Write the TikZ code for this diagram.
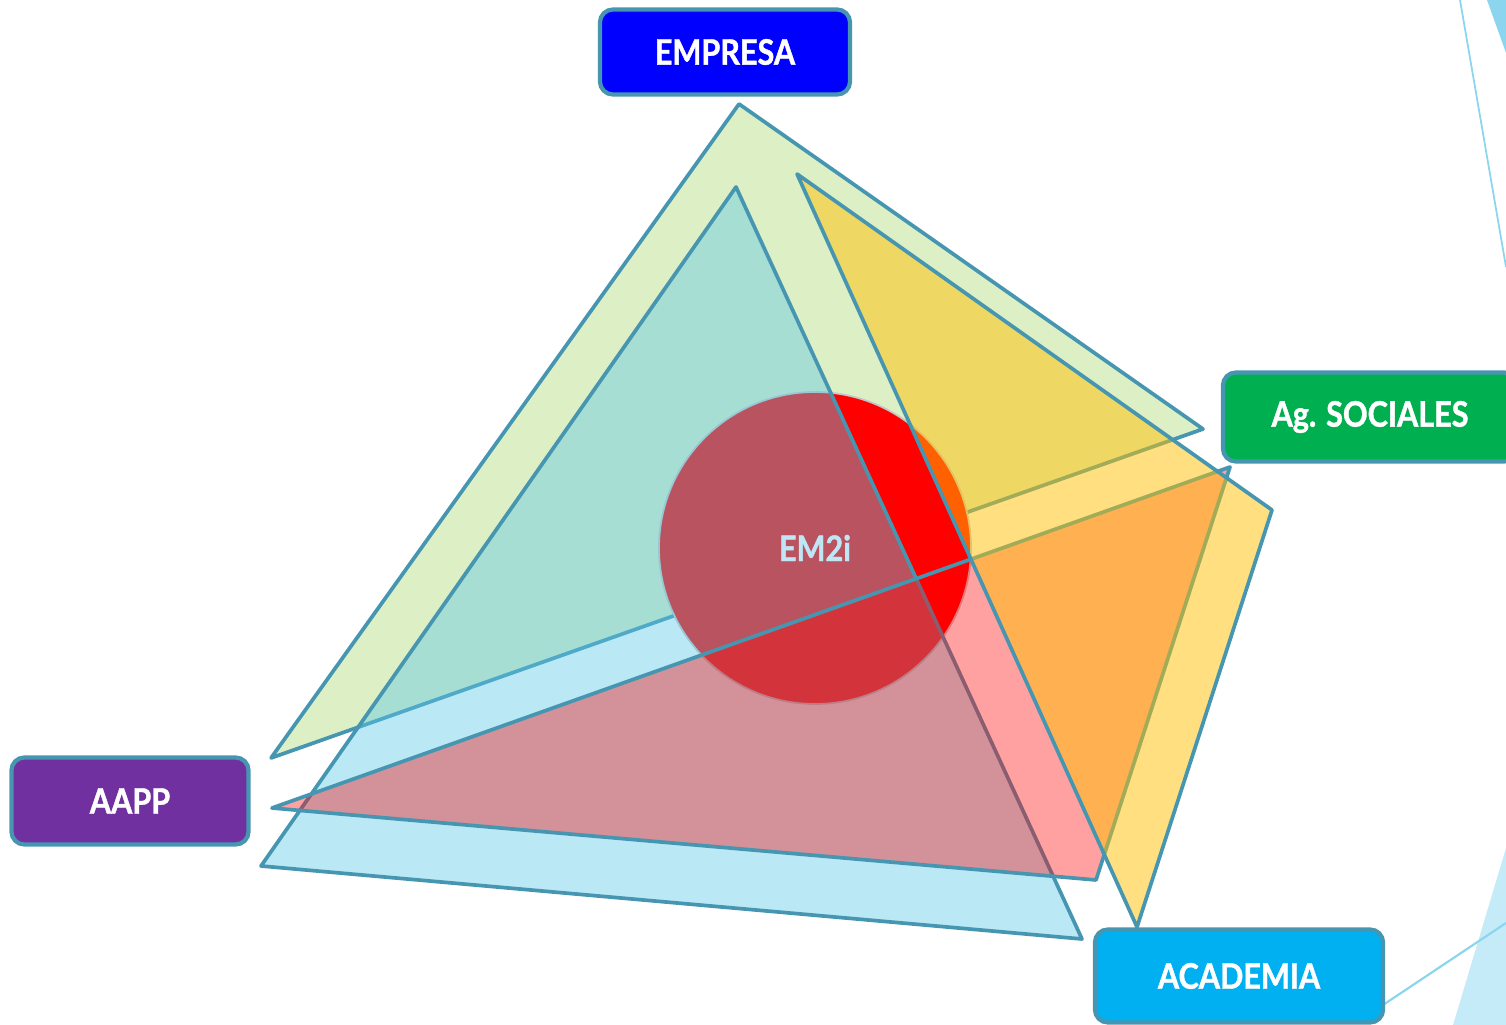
\documentclass[tikz,border=0pt]{standalone}
\usepackage{fontspec}
\newfontfamily\etiq[FakeStretch=0.87,FakeBold=1.2]{Lato}
\usepackage{tikz}
\definecolor{borde}{RGB}{70,150,178}
\definecolor{verdeclaro}{RGB}{221,239,197}
\definecolor{celeste}{RGB}{91,200,231}
\definecolor{ambar}{RGB}{255,192,0}
\definecolor{deco}{RGB}{140,213,238}
\definecolor{decoclaro}{RGB}{197,235,248}
\definecolor{texcirc}{RGB}{192,230,245}
\definecolor{empresa}{RGB}{0,0,255}
\definecolor{sociales}{RGB}{0,176,80}
\definecolor{aapp}{RGB}{112,48,160}
\definecolor{academia}{RGB}{0,176,240}

\begin{document}
\begin{tikzpicture}[x=0.01cm,y=-0.01cm,
    caja/.style={draw=borde, line width=1.2pt, rounded corners=0.13cm, text=white,
        font=\etiq\bfseries\fontsize{10}{12}\selectfont},
    tri/.style={draw=borde, line width=1.05pt, line join=round}]
    \useasboundingbox (0,0) rectangle (1506,1025);
    \clip (0,0) rectangle (1506,1025);
    \fill[deco] (1487,0) -- (1506,0) -- (1506,53) -- cycle;
    \draw[deco, line width=0.5pt] (1460,0) -- (1506,267);
    \fill[decoclaro] (1453,1025) -- (1506,848) -- (1506,1025) -- cycle;
    \draw[deco, line width=0.6pt] (1383,1005) -- (1506,923);
    \draw[tri, fill=verdeclaro] (739,104) -- (1203,429) -- (271,758) -- cycle;
    \draw[red, fill=red, draw=gray!45, line width=0.5pt] (815,548) circle (156);
    \draw[tri, fill=celeste, fill opacity=0.42] (736,187) -- (1082,939) -- (261,866) -- cycle;
    \draw[tri, fill=red, fill opacity=0.37] (272,808) -- (1230,467) -- (1096,880) -- cycle;
    \draw[tri, fill=ambar, fill opacity=0.5] (797,174) -- (1272,510) -- (1137,927) -- cycle;
    \node[text=texcirc, font=\etiq\bfseries\fontsize{10}{12}\selectfont] (em2i) at (815,548) {EM2i};
    \node[caja, fill=empresa, minimum width=2.5cm, minimum height=0.85cm] (emp) at (725,52) {EMPRESA};
    \node[caja, fill=sociales, minimum width=2.94cm, minimum height=0.89cm] (soc) at (1370,417) {Ag. SOCIALES};
    \node[caja, fill=aapp, minimum width=2.37cm, minimum height=0.87cm] (aap) at (130,801) {AAPP};
    \node[caja, fill=academia, minimum width=2.88cm, minimum height=0.93cm] (aca) at (1239,976) {ACADEMIA};
\end{tikzpicture}
\end{document}
